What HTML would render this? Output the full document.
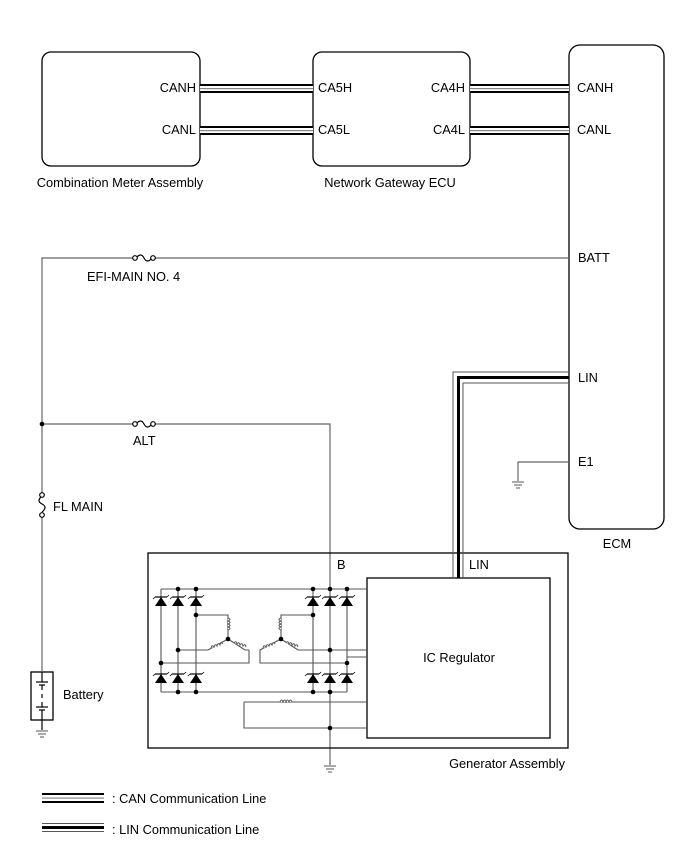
<!DOCTYPE html>
<html><head><style>
html,body{margin:0;padding:0;background:#fff;}
svg{display:block;}
text{font-family:"Liberation Sans",Arial,sans-serif;font-size:12.8px;fill:#000;}
</style></head><body>
<svg width="688" height="852" viewBox="0 0 688 852" xmlns="http://www.w3.org/2000/svg">
<defs>
<g id="dio">
<polygon points="-6,4 6,4 0,-5" fill="#000"/>
<line x1="-6" y1="-5" x2="6" y2="-5" stroke="#000" stroke-width="1.2"/>
<line x1="-6" y1="-5" x2="-8" y2="-3" stroke="#000" stroke-width="0.8"/>
<line x1="6" y1="-5" x2="8" y2="-7" stroke="#000" stroke-width="0.8"/>
</g>
<g id="gnd" stroke="#555" stroke-width="1">
<line x1="-6" y1="0" x2="6" y2="0"/><line x1="-4" y1="3" x2="4" y2="3"/><line x1="-2" y1="6" x2="2" y2="6"/>
</g>
<g id="can1">
<rect x="0" y="84" width="113" height="9" fill="#000"/>
<rect x="0" y="86" width="113" height="5" fill="#fff"/>
<rect x="0" y="88" width="113" height="1.2" fill="#888"/>
</g>
<g id="can2">
<rect x="0" y="84" width="99" height="9" fill="#000"/>
<rect x="0" y="86" width="99" height="5" fill="#fff"/>
<rect x="0" y="88" width="99" height="1.2" fill="#888"/>
</g>
</defs>
<g fill="none" stroke="#000" stroke-width="1.3">
<rect x="42" y="52" width="158" height="114" rx="9"/>
<rect x="313" y="52" width="157" height="114" rx="9"/>
<rect x="569" y="45" width="95" height="484" rx="11"/>
</g>
<use href="#can1" x="200" y="0"/>
<use href="#can1" x="200" y="42"/>
<use href="#can2" x="470" y="0"/>
<use href="#can2" x="470" y="42"/>
<text x="196" y="92" text-anchor="end">CANH</text>
<text x="196" y="134" text-anchor="end">CANL</text>
<text x="318" y="92">CA5H</text>
<text x="318" y="134">CA5L</text>
<text x="465" y="92" text-anchor="end">CA4H</text>
<text x="465" y="134" text-anchor="end">CA4L</text>
<text x="577" y="92">CANH</text>
<text x="577" y="134">CANL</text>
<text x="120" y="187" text-anchor="middle">Combination Meter Assembly</text>
<text x="390" y="187" text-anchor="middle">Network Gateway ECU</text>
<text x="578" y="262">BATT</text>
<text x="578" y="382">LIN</text>
<text x="578" y="466">E1</text>
<text x="617" y="548" text-anchor="middle">ECM</text>
<g fill="none" stroke="#666" stroke-width="1.2">
<path d="M569 258 H155 M133 258 H42 V493 M42 517 V671"/>
<path d="M42 424 H133 M155 424 H330 V765"/>
<path d="M569 462 H518 V481"/>
</g>
<g fill="#fff" stroke="#000" stroke-width="1.2">
<path d="M136 258 q5 -6 8 0 q3 6 8 0" fill="none"/>
<circle cx="135" cy="258" r="2.3"/><circle cx="153" cy="258" r="2.3"/>
<path d="M136 424 q5 -6 8 0 q3 6 8 0" fill="none"/>
<circle cx="135" cy="424" r="2.3"/><circle cx="153" cy="424" r="2.3"/>
<path d="M42 496 q-6 5 0 8 q6 3 0 8" fill="none"/>
<circle cx="42" cy="495" r="2.3"/><circle cx="42" cy="515" r="2.3"/>
</g>
<circle cx="42" cy="424" r="2.3" fill="#000"/>
<text x="87" y="281">EFI-MAIN NO. 4</text>
<text x="133" y="445">ALT</text>
<text x="53" y="511">FL MAIN</text>
<rect x="31" y="672" width="22" height="48" fill="none" stroke="#000" stroke-width="1.3"/>
<g stroke="#000" stroke-width="1.2">
<line x1="42" y1="672" x2="42" y2="682"/>
<line x1="36" y1="682" x2="48" y2="682"/><line x1="39" y1="685" x2="45" y2="685"/>
<line x1="42" y1="685" x2="42" y2="690" /><line x1="42" y1="694" x2="42" y2="698"/><line x1="42" y1="702" x2="42" y2="707"/>
<line x1="36" y1="707" x2="48" y2="707"/><line x1="39" y1="710" x2="45" y2="710"/>
<line x1="42" y1="710" x2="42" y2="730"/>
</g>
<use href="#gnd" x="42" y="731"/>
<text x="63" y="699">Battery</text>
<use href="#gnd" x="518" y="482"/>
<use href="#gnd" x="330" y="766"/>
<rect x="148" y="553" width="420" height="195" fill="none" stroke="#000" stroke-width="1.3"/>
<rect x="367" y="578" width="183" height="160" fill="#fff" stroke="#000" stroke-width="1.3"/>
<text x="459" y="662" text-anchor="middle">IC Regulator</text>
<text x="565" y="768" text-anchor="end">Generator Assembly</text>
<text x="337" y="569">B</text>
<text x="469" y="569">LIN</text>
<g fill="none">
<path d="M569 372 H453 V578" stroke="#555" stroke-width="1"/>
<path d="M569 377.5 H458.5 V578" stroke="#000" stroke-width="3"/>
<path d="M569 383 H463 V578" stroke="#555" stroke-width="1"/>
</g>
<g fill="none" stroke="#555" stroke-width="1.1">
<path d="M161 589 H367"/>
<path d="M161 692 H347"/>
<path d="M161 589 V692 M178 589 V692 M196 589 V692 M313 589 V692 M347 589 V692"/>
<path d="M161 663 H249 V650"/>
<path d="M178 650 H208"/>
<path d="M196 615 H228 V639"/>
<path d="M228 639 L208 650 M228 639 L245 650 H249"/>
<path d="M313 615 H281 V639"/>
<path d="M281 639 L260 650 V663 H347 M281 639 L298 650 H367"/>
<path d="M347 657 H367"/>
<path d="M244 702 H367 M244 702 V728 H367"/>
</g>
<g fill="#fff" stroke="#555" stroke-width="1">
<path d="M228 618 q4 1.5 0 3 q4 1.5 0 3 q4 1.5 0 3 q4 1.5 0 3" />
<path d="M281 618 q-4 1.5 0 3 q-4 1.5 0 3 q-4 1.5 0 3 q-4 1.5 0 3" />
<path d="M280 702 q1.5 -4 3 0 q1.5 -4 3 0 q1.5 -4 3 0 q1.5 -4 3 0" />
<path d="M211 648 q1 -4 3 -1 q1 -4 3 -1 q1 -4 3 -1 q1 -4 3 -1" />
<path d="M234 643 q2 -3 3 1 q2 -3 3 1 q2 -3 3 1 q2 -3 3 1" />
<path d="M263 648 q1 -4 3 -1 q1 -4 3 -1 q1 -4 3 -1 q1 -4 3 -1" />
<path d="M286 643 q2 -3 3 1 q2 -3 3 1 q2 -3 3 1 q2 -3 3 1" />
</g>
<g>
<use href="#dio" x="161" y="602"/><use href="#dio" x="178" y="602"/><use href="#dio" x="196" y="602"/>
<use href="#dio" x="313" y="602"/><use href="#dio" x="330" y="602"/><use href="#dio" x="347" y="602"/>
<use href="#dio" x="161" y="679"/><use href="#dio" x="178" y="679"/><use href="#dio" x="196" y="679"/>
<use href="#dio" x="313" y="679"/><use href="#dio" x="330" y="679"/><use href="#dio" x="347" y="679"/>
</g>
<g fill="#000">
<circle cx="178" cy="589" r="2.3"/><circle cx="196" cy="589" r="2.3"/><circle cx="313" cy="589" r="2.3"/><circle cx="330" cy="589" r="2.3"/><circle cx="347" cy="589" r="2.3"/>
<circle cx="178" cy="692" r="2.3"/><circle cx="196" cy="692" r="2.3"/><circle cx="313" cy="692" r="2.3"/><circle cx="330" cy="692" r="2.3"/>
<circle cx="161" cy="663" r="2.3"/><circle cx="178" cy="650" r="2.3"/><circle cx="196" cy="615" r="2.3"/>
<circle cx="313" cy="615" r="2.3"/><circle cx="330" cy="650" r="2.3"/><circle cx="347" cy="663" r="2.3"/>
<circle cx="228" cy="639" r="2.3"/><circle cx="281" cy="639" r="2.3"/><circle cx="330" cy="728" r="2.3"/>
</g>
<rect x="42" y="793" width="62" height="10" fill="#000"/>
<rect x="42" y="795" width="62" height="6" fill="#fff"/>
<rect x="42" y="797.5" width="62" height="1.2" fill="#888"/>
<text x="112" y="803">: CAN Communication Line</text>
<rect x="42" y="823" width="62" height="1" fill="#555"/>
<rect x="42" y="826" width="62" height="3" fill="#000"/>
<rect x="42" y="831" width="62" height="1" fill="#555"/>
<text x="112" y="834">: LIN Communication Line</text>
</svg>
</body></html>
